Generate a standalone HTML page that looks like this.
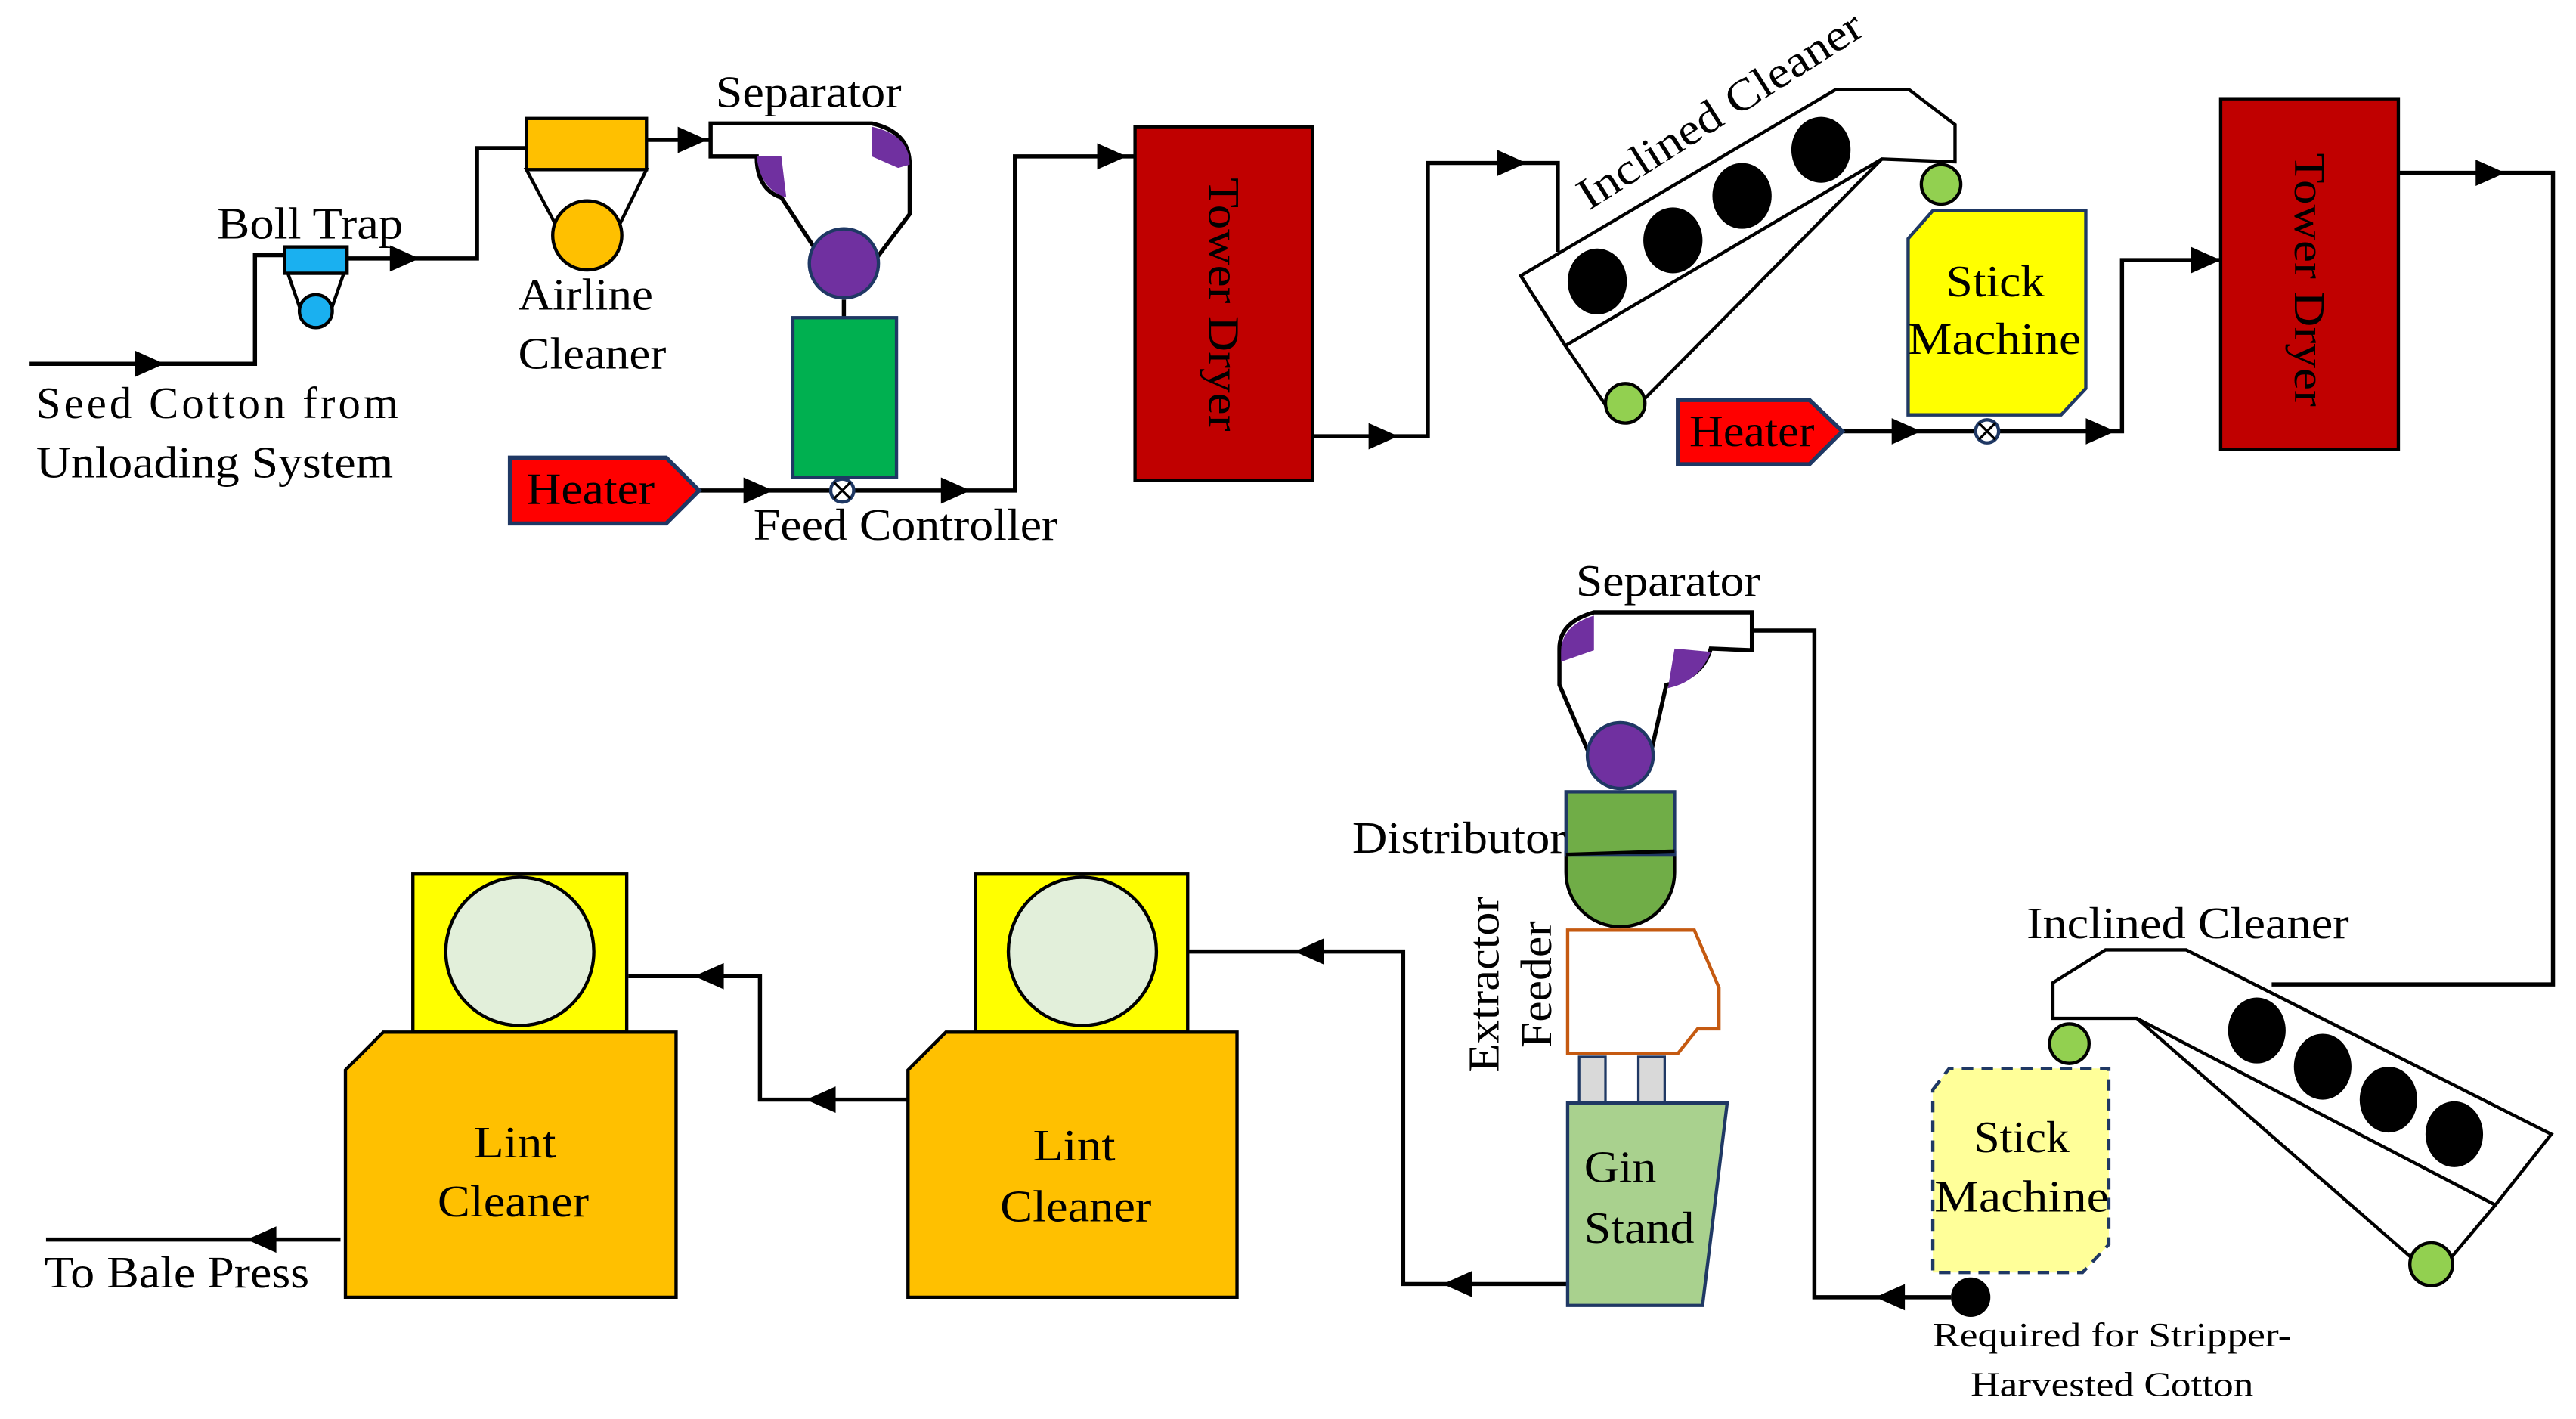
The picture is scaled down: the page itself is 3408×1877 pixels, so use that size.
<!DOCTYPE html>
<html><head><meta charset="utf-8"><style>html,body{margin:0;padding:0;background:#fff}svg{display:block}</style></head>
<body>
<svg width="3408" height="1877" viewBox="0 0 1566 862" preserveAspectRatio="none" xmlns="http://www.w3.org/2000/svg" font-family="'Liberation Serif', serif" font-size="27">
<rect width="1566" height="862" fill="#fff"/>
<g fill="none" stroke="#000" stroke-width="2.5">
<polyline points="18,221 155,221 155,155 173,155"/>
<polyline points="211,157 290,157 290,90 320,90"/>
<line x1="393" y1="85" x2="432" y2="85"/>
<polyline points="425,298 617,298 617,95 690,95"/>
<polyline points="798,265 868,265 868,99 947,99 947,153"/>
<polyline points="1120,262 1290,262 1290,158 1350,158"/>
<polyline points="1458,105 1552,105 1552,598 1381,598"/>
<polyline points="1186,788 1103,788 1103,383 1066,383"/>
<polyline points="953,780 853,780 853,578 722,578"/>
<polyline points="552,668 462,668 462,593 382,593"/>
<line x1="207" y1="753" x2="28" y2="753"/>
<line x1="513" y1="182" x2="513" y2="193"/>
</g>
<g fill="#000">
<polygon points="82,213 100,221 82,229"/>
<polygon points="237,149 255,157 237,165"/>
<polygon points="412,77 430,85 412,93"/>
<polygon points="452,290 470,298 452,306"/>
<polygon points="572,290 590,298 572,306"/>
<polygon points="667,87 685,95 667,103"/>
<polygon points="832,257 850,265 832,273"/>
<polygon points="910,91 928,99 910,107"/>
<polygon points="1150,254 1168,262 1150,270"/>
<polygon points="1268,254 1286,262 1268,270"/>
<polygon points="1332,150 1350,158 1332,166"/>
<polygon points="1505,97 1523,105 1505,113"/>
<polygon points="1158,780 1140,788 1158,796"/>
<polygon points="895,772 877,780 895,788"/>
<polygon points="805,570 787,578 805,586"/>
<polygon points="508,660 490,668 508,676"/>
<polygon points="440,585 422,593 440,601"/>
<polygon points="168,745 150,753 168,761"/>
</g>
<!-- Boll trap -->
<polygon points="175,166 209,166 200,192 184,192" fill="#fff" stroke="#000" stroke-width="2"/>
<circle cx="192" cy="189" r="10" fill="#1ab0f0" stroke="#000" stroke-width="2"/>
<rect x="173" y="150" width="38" height="16" fill="#1ab0f0" stroke="#000" stroke-width="2"/>
<!-- Airline cleaner -->
<polygon points="320,103 393,103 370,150 345,150" fill="#fff" stroke="#000" stroke-width="2"/>
<circle cx="357" cy="143" r="21" fill="#ffc000" stroke="#000" stroke-width="2"/>
<rect x="320" y="72" width="73" height="31" fill="#ffc000" stroke="#000" stroke-width="2"/>
<!-- Separator 1 -->
<path d="M432,75 L530,75 Q553,80 553,100 L553,130 L532,158 L500,158 L475,120 Q460,115 460,95 L432,95 Z" fill="#fff" stroke="#000" stroke-width="2.5"/>
<path d="M460,95 L475,95 L478,120 Q462,115 460,95 Z" fill="#7030a0"/>
<path d="M530,77 Q553,82 553,100 L546,102 L530,95 Z" fill="#7030a0"/>
<circle cx="513" cy="160" r="21" fill="#7030a0" stroke="#1f3864" stroke-width="2"/>
<rect x="482" y="193" width="63" height="97" fill="#00b050" stroke="#1f3864" stroke-width="2"/>
<circle cx="512" cy="298" r="7" fill="#fff" stroke="#1f3864" stroke-width="2"/>
<path d="M507,293 L517,303 M517,293 L507,303" stroke="#000" stroke-width="1.5"/>
<!-- Heater 1 -->
<polygon points="310,278 405,278 425,298 405,318 310,318" fill="#ff0000" stroke="#1f3864" stroke-width="2.5"/>
<!-- Tower dryers -->
<rect x="690" y="77" width="108" height="215" fill="#c00000" stroke="#000" stroke-width="2"/>
<rect x="1350" y="60" width="108" height="213" fill="#c00000" stroke="#000" stroke-width="2"/>
<!-- Inclined cleaner 1 -->
<polygon points="924.5,167.5 1116,54.4 1160.5,54.4 1188.5,75.7 1188.5,98.3 1144,96.6 951.6,210" fill="#fff" stroke="#000" stroke-width="2"/>
<polyline points="951.6,210 976,246" fill="none" stroke="#000" stroke-width="2"/>
<line x1="924.5" y1="167.5" x2="951.6" y2="210" stroke="#000" stroke-width="2"/>
<line x1="1000" y1="242" x2="1144" y2="96.6" stroke="#000" stroke-width="2"/>
<g fill="#000"><ellipse cx="971" cy="171" rx="18" ry="20"/><ellipse cx="1017" cy="146" rx="18" ry="20"/><ellipse cx="1059" cy="119" rx="18" ry="20"/><ellipse cx="1107" cy="91" rx="18" ry="20"/></g>
<circle cx="988" cy="245" r="12" fill="#92d050" stroke="#000" stroke-width="2"/>
<circle cx="1180" cy="112" r="12" fill="#92d050" stroke="#000" stroke-width="2"/>
<!-- Stick machine 1 -->
<polygon points="1160,145 1175,128 1268,128 1268,236 1253,252 1160,252" fill="#ffff00" stroke="#1f3864" stroke-width="2"/>
<!-- Heater 2 -->
<polygon points="1020,243 1100,243 1120,262 1100,282 1020,282" fill="#ff0000" stroke="#1f3864" stroke-width="2.5"/>
<circle cx="1208" cy="262" r="7" fill="#fff" stroke="#1f3864" stroke-width="2"/>
<path d="M1203,257 L1213,267 M1213,257 L1203,267" stroke="#000" stroke-width="1.5"/>
<!-- Inclined cleaner 2 -->
<polygon points="1248,597 1280,577 1329,577 1551,689 1517,732 1299,618.6 1248,618.6" fill="#fff" stroke="#000" stroke-width="2"/>
<line x1="1299" y1="618.6" x2="1466" y2="764" stroke="#000" stroke-width="2"/>
<line x1="1517" y1="732" x2="1490" y2="764" stroke="#000" stroke-width="2"/>
<g fill="#000"><ellipse cx="1372" cy="626" rx="17.5" ry="20"/><ellipse cx="1412" cy="648" rx="17.5" ry="20"/><ellipse cx="1452" cy="668" rx="17.5" ry="20"/><ellipse cx="1492" cy="689" rx="17.5" ry="20"/></g>
<circle cx="1258" cy="634" r="12" fill="#92d050" stroke="#000" stroke-width="2"/>
<circle cx="1478" cy="768" r="13" fill="#92d050" stroke="#000" stroke-width="2"/>
<!-- Stick machine 2 -->
<polygon points="1175,662 1185,649 1282,649 1282,756 1266,773 1175,773" fill="#ffff99" stroke="#1f3864" stroke-width="2" stroke-dasharray="7,5"/>
<circle cx="1198" cy="788" r="12" fill="#000"/>
<!-- Separator 2 -->
<path d="M1065,372 L969,372 Q948,378 948,394 L948,416 L967,460 L1003,460 L1013,416 Q1035,412 1040,394 L1065,395 Z" fill="#fff" stroke="#000" stroke-width="2.5"/>
<path d="M969,374 Q949,380 949,396 L949,402 L969,395 Z" fill="#7030a0"/>
<path d="M1018,394 L1040,396 Q1033,414 1014,418 Z" fill="#7030a0"/>
<circle cx="985" cy="459" r="20" fill="#7030a0" stroke="#1f3864" stroke-width="2"/>
<!-- Distributor -->
<path d="M952,518 L1018,518 L1018,530 A33,33 0 0 1 952,530 Z" fill="#70ad47" stroke="#000" stroke-width="2"/>
<rect x="952" y="481" width="66" height="38" fill="#70ad47" stroke="#1f3864" stroke-width="2"/>
<line x1="952" y1="519" x2="1018" y2="517" stroke="#000" stroke-width="2"/>
<!-- Extractor feeder -->
<polygon points="953,565 1030,565 1045,600 1045,625 1032,625 1020,640 953,640" fill="#fff" stroke="#c55a11" stroke-width="2"/>
<rect x="960" y="642" width="16" height="28" fill="#d9d9d9" stroke="#1f3864" stroke-width="1.5"/>
<rect x="996" y="642" width="16" height="28" fill="#d9d9d9" stroke="#1f3864" stroke-width="1.5"/>
<!-- Gin stand -->
<polygon points="953,670 1050,670 1035,793 953,793" fill="#a9d18e" stroke="#1f3864" stroke-width="2"/>
<!-- Lint cleaners -->
<rect x="593" y="531" width="129" height="96" fill="#ffff00" stroke="#000" stroke-width="2"/>
<circle cx="658" cy="578" r="45" fill="#e2efda" stroke="#000" stroke-width="2"/>
<polygon points="575,627 752,627 752,788 552,788 552,650" fill="#ffc000" stroke="#000" stroke-width="2"/>
<rect x="251" y="531" width="130" height="96" fill="#ffff00" stroke="#000" stroke-width="2"/>
<circle cx="316" cy="578" r="45" fill="#e2efda" stroke="#000" stroke-width="2"/>
<polygon points="233,627 411,627 411,788 210,788 210,650" fill="#ffc000" stroke="#000" stroke-width="2"/>
<!-- Text -->
<g fill="#000" lengthAdjust="spacingAndGlyphs">
<text x="132" y="145" textLength="113" lengthAdjust="spacingAndGlyphs">Boll Trap</text>
<text x="22" y="254" textLength="220" lengthAdjust="spacing">Seed Cotton from</text>
<text x="22" y="290" textLength="217" lengthAdjust="spacingAndGlyphs">Unloading System</text>
<text x="315" y="188" textLength="82" lengthAdjust="spacingAndGlyphs">Airline</text>
<text x="315" y="224" textLength="90" lengthAdjust="spacingAndGlyphs">Cleaner</text>
<text x="435" y="65" textLength="113" lengthAdjust="spacingAndGlyphs">Separator</text>
<text x="320" y="306" textLength="78" lengthAdjust="spacingAndGlyphs">Heater</text>
<text x="458" y="328" textLength="185" lengthAdjust="spacingAndGlyphs">Feed Controller</text>
<text transform="translate(735,185) rotate(90)" text-anchor="middle" textLength="154" lengthAdjust="spacingAndGlyphs">Tower Dryer</text>
<text transform="translate(1395,170) rotate(90)" text-anchor="middle" textLength="154" lengthAdjust="spacingAndGlyphs">Tower Dryer</text>
<text transform="translate(966,128) rotate(-32.5)" textLength="200" lengthAdjust="spacingAndGlyphs">Inclined Cleaner</text>
<text x="1183" y="180" textLength="60" lengthAdjust="spacingAndGlyphs">Stick</text>
<text x="1160" y="215" textLength="105" lengthAdjust="spacingAndGlyphs">Machine</text>
<text x="1027" y="271" textLength="76" lengthAdjust="spacingAndGlyphs">Heater</text>
<text x="958" y="362" textLength="112" lengthAdjust="spacingAndGlyphs">Separator</text>
<text x="1232" y="570" textLength="196" lengthAdjust="spacingAndGlyphs">Inclined Cleaner</text>
<text x="822" y="518" textLength="130" lengthAdjust="spacingAndGlyphs">Distributor</text>
<text transform="translate(911,598) rotate(-90)" text-anchor="middle" textLength="107" lengthAdjust="spacingAndGlyphs">Extractor</text>
<text transform="translate(943,598) rotate(-90)" text-anchor="middle" textLength="77" lengthAdjust="spacingAndGlyphs">Feeder</text>
<text x="963" y="718" textLength="44" lengthAdjust="spacingAndGlyphs">Gin</text>
<text x="963" y="755" textLength="67" lengthAdjust="spacingAndGlyphs">Stand</text>
<text x="1200" y="700" textLength="58" lengthAdjust="spacingAndGlyphs">Stick</text>
<text x="1176" y="736" textLength="106" lengthAdjust="spacingAndGlyphs">Machine</text>
<text x="628" y="705" textLength="50" lengthAdjust="spacingAndGlyphs">Lint</text>
<text x="608" y="742" textLength="92" lengthAdjust="spacingAndGlyphs">Cleaner</text>
<text x="288" y="703" textLength="50" lengthAdjust="spacingAndGlyphs">Lint</text>
<text x="266" y="739" textLength="92" lengthAdjust="spacingAndGlyphs">Cleaner</text>
<text x="27" y="782" textLength="161" lengthAdjust="spacingAndGlyphs">To Bale Press</text>
<text x="1175" y="818" font-size="21" textLength="218" lengthAdjust="spacingAndGlyphs">Required for Stripper-</text>
<text x="1198" y="848" font-size="21" textLength="172" lengthAdjust="spacingAndGlyphs">Harvested Cotton</text>
</g>
</svg>
</body></html>
